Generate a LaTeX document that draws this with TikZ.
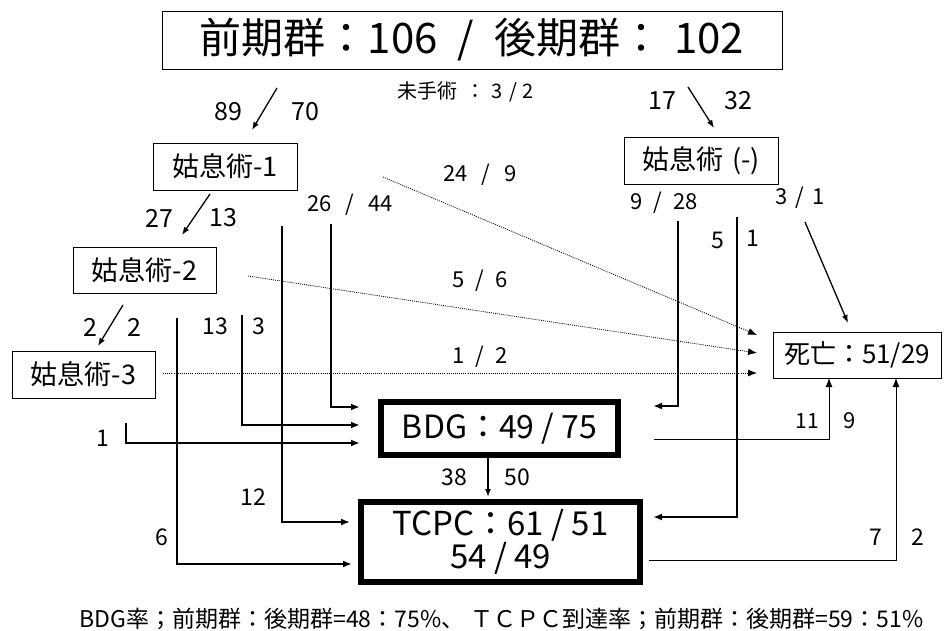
\documentclass[tikz,border=0pt]{standalone}
\usepackage{fontspec}
\setmainfont{Noto Sans CJK JP}
\usetikzlibrary{arrows.meta}
\newcommand\slsh[1]{\hspace{#1}/\hspace{#1}}
\tikzset{
  tbox/.style={draw,line width=0.9pt,inner sep=0pt,font=\fontsize{27}{30}\selectfont},
  bigbox/.style={draw,line width=6pt,inner sep=0pt,align=center},
  lbl/.style={inner sep=0pt,font=\fontsize{23}{25}\selectfont},
  slbl/.style={inner sep=0pt,font=\fontsize{22}{24}\selectfont},
  tipa/.style={-{Latex[length=9pt,width=7pt]}},
  thk/.style={line width=1.8pt,tipa},
  thn/.style={line width=0.9pt,tipa},
  dotln/.style={line width=0.8pt,dash pattern=on 1pt off 1.1pt,-{Latex[length=9pt,width=7pt]}},
  slant/.style={line width=1.3pt,-{Latex[length=8pt,width=6pt]}},
}
\begin{document}
\begin{tikzpicture}[x=1pt,y=-1pt]
\useasboundingbox (0,0) rectangle (946,631);
% boxes
\node[tbox,minimum width=620pt,minimum height=58pt,font=\fontsize{42}{46}\selectfont] (top) at (472,40) {\raisebox{-4pt}{前期群：106\slsh{20pt}後期群：\hspace{12pt}102}};
\node[inner sep=0pt,font=\fontsize{20}{22}\selectfont] (mis) at (466,92) {未手術\hspace{8pt}：\hspace{6pt}3\slsh{6pt}2};
\node[tbox,minimum width=144pt,minimum height=47pt] (k1) at (225,166.5) {\raisebox{-2pt}{姑息術-1}};
\node[tbox,minimum width=154pt,minimum height=47pt] (km) at (701,160.5) {\raisebox{-2pt}{姑息術\hspace{9pt}(-)}};
\node[tbox,minimum width=143pt,minimum height=46pt] (k2) at (144.5,270) {\raisebox{-2pt}{姑息術-2}};
\node[tbox,minimum width=143pt,minimum height=47pt] (k3) at (83.5,374.5) {姑息術-3};
\node[tbox,minimum width=168pt,minimum height=46pt,font=\fontsize{26}{28}\selectfont] (death) at (857,355) {\raisebox{-2pt}{死亡：51/29}};
\node[bigbox,minimum width=237pt,minimum height=53pt,font=\fontsize{32}{34}\selectfont] (bdg) at (499.5,428.5) {BDG：49 / 75};
\node[bigbox,minimum width=279pt,minimum height=80pt,font=\fontsize{33}{31}\selectfont] (tcpc) at (500.5,542) {TCPC：61 / 51\\54 / 49};
\node[inner sep=0pt,font=\fontsize{23}{25}\selectfont] (rate) at (501.5,619) {BDG率；前期群：後期群=48：75\%、\hspace{6pt}ＴＣＰＣ到達率；前期群：後期群=59：51\%};

% slanted arrows
\coordinate (a1s) at (277,88);  \coordinate (a1e) at (252,130);
\coordinate (a2s) at (688,87);  \coordinate (a2e) at (714,128);
\coordinate (a3s) at (210,194); \coordinate (a3e) at (182,235);
\coordinate (a4s) at (123,305); \coordinate (a4e) at (98,346);
\coordinate (a5s) at (805,222); \coordinate (a5e) at (848,323);
\draw[slant] (a1s) -- (a1e);
\draw[slant] (a2s) -- (a2e);
\draw[slant] (a3s) -- (a3e);
\draw[slant] (a4s) -- (a4e);
\draw[slant] (a5s) -- (a5e);
\node[lbl,font=\fontsize{25}{27}\selectfont] (n89) at (228,112) {89};
\node[lbl,font=\fontsize{25}{27}\selectfont] (n70) at (305,112) {70};
\node[lbl,font=\fontsize{25}{27}\selectfont] (n17) at (662,101) {17};
\node[lbl,font=\fontsize{25}{27}\selectfont] (n32) at (738,101) {32};
\node[lbl,font=\fontsize{25}{27}\selectfont] (n27) at (159,218) {27};
\node[lbl,font=\fontsize{25}{27}\selectfont] (n13a) at (223,218) {13};
\node[lbl,font=\fontsize{25}{27}\selectfont] (n2a) at (90,327) {2};
\node[lbl,font=\fontsize{25}{27}\selectfont] (n2b) at (134,327) {2};
\node[slbl] (n31) at (800,198) {3\slsh{8pt}1};

% dotted arrows to death
\coordinate (d1s) at (383,177); \coordinate (d1e) at (757,335);
\coordinate (d2s) at (248,276); \coordinate (d2e) at (757,353);
\coordinate (d3s) at (163,373); \coordinate (d3e) at (757,373);
\draw[dotln] (d1s) -- (d1e);
\draw[dotln] (d2s) -- (d2e);
\draw[dotln] (d3s) -- (d3e);
\node[slbl] (n249) at (480,175) {24\slsh{14pt}9};
\node[slbl] (n56) at (480,281) {5\slsh{11pt}6};
\node[slbl] (n12b) at (480,357) {1\slsh{11pt}2};

% left thick connectors
\coordinate (l1s) at (331,224); \coordinate (l1e) at (360,407);
\coordinate (l2s) at (282,226); \coordinate (l2e) at (350,522);
\coordinate (l3s) at (242,315); \coordinate (l3e) at (360,425);
\coordinate (l4s) at (177,318); \coordinate (l4e) at (352,564);
\coordinate (l5s) at (126,423); \coordinate (l5e) at (360,443);
\draw[thk] (l1s) |- (l1e);
\draw[thk] (l2s) |- (l2e);
\draw[thk] (l3s) |- (l3e);
\draw[thk] (l4s) |- (l4e);
\draw[thk] (l5s) |- (l5e);
\node[slbl] (n2644) at (350,205) {26\slsh{14pt}44};
\node[lbl] (n12) at (253,497) {12};
\node[lbl] (n13) at (215,326) {13};
\node[lbl] (n3) at (259,326) {3};
\node[lbl] (n6) at (162,537) {6};
\node[lbl] (n1) at (103,438) {1};

% right thick connectors
\coordinate (r1s) at (678,221); \coordinate (r1e) at (653,406);
\coordinate (r2s) at (737,217); \coordinate (r2e) at (653,517);
\draw[thk] (r1s) |- (r1e);
\draw[thk] (r2s) |- (r2e);
\node[slbl] (n928) at (664,203) {9\slsh{11pt}28};
\node[lbl] (n5) at (718,240) {5};
\node[lbl] (n1r) at (753,238) {1};

% thin connectors to death
\coordinate (t1s) at (654,439); \coordinate (t1e) at (829,378);
\coordinate (t2s) at (649,560); \coordinate (t2e) at (896,378);
\draw[thn] (t1s) -| (t1e);
\draw[thn] (t2s) -| (t2e);
\node[slbl,font=\fontsize{21}{23}\selectfont] (n11) at (807,421) {11};
\node[slbl] (n9) at (850,421) {9};
\node[lbl] (n7) at (876,537) {7};
\node[lbl] (n2r) at (918,537) {2};

% BDG -> TCPC
\coordinate (bt1) at (488,458); \coordinate (bt2) at (488,497);
\draw[line width=1.5pt,-{Latex[length=8pt,width=6pt]}] (bt1) -- (bt2);
\node[lbl] (n38) at (454,477) {38};
\node[lbl] (n50) at (517,477) {50};
\end{tikzpicture}
\end{document}
